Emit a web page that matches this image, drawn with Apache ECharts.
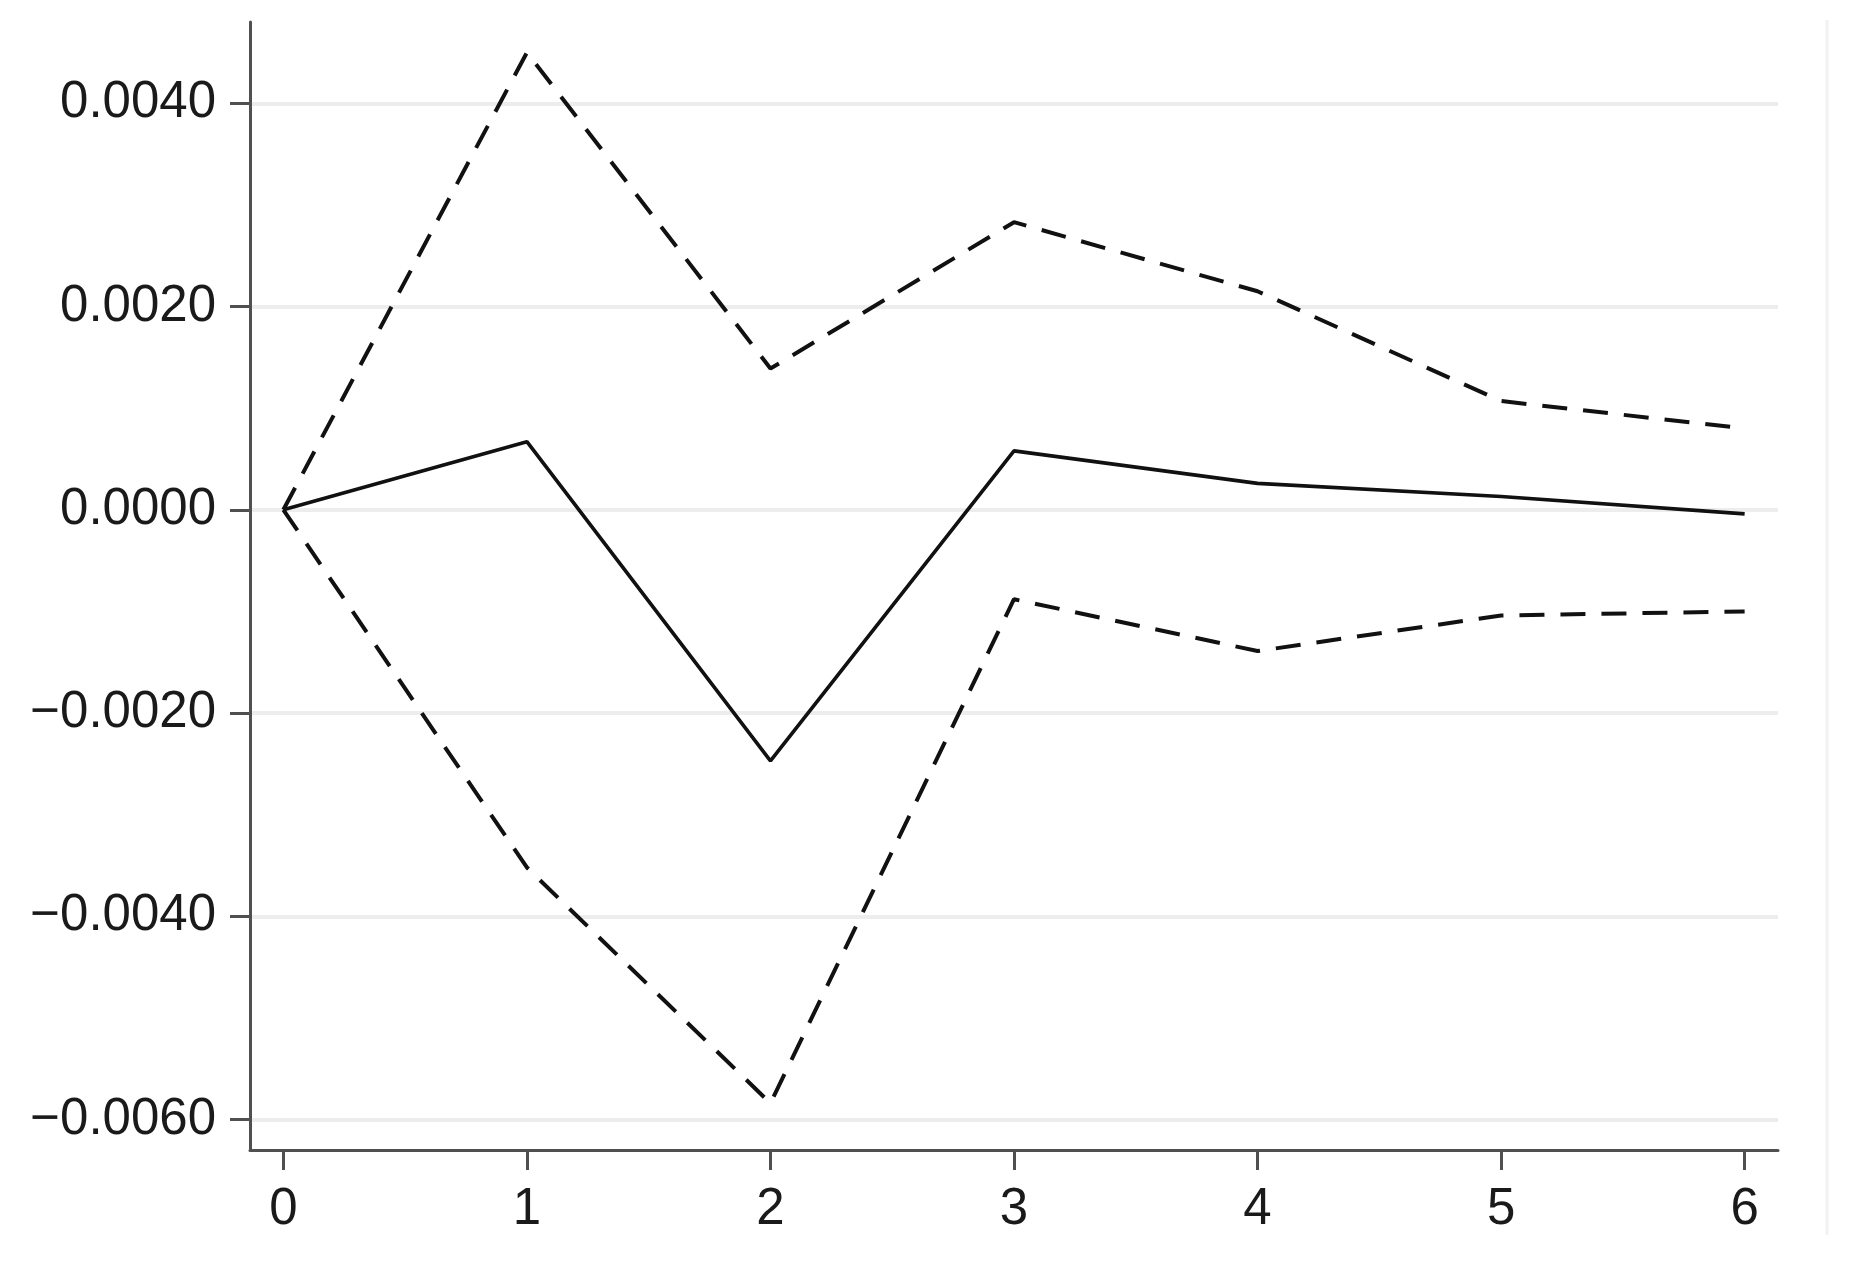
<!DOCTYPE html>
<html>
<head>
<meta charset="utf-8">
<script src="https://cdn.jsdelivr.net/npm/echarts@6/dist/echarts.min.js"></script>
<style>
  html, body { margin: 0; padding: 0; background: #ffffff; }
  #chart { width: 1849px; height: 1273px; }
</style>
</head>
<body>
<div id="chart"></div>
<script>
// Periods after the shock
var periods = [0, 1, 2, 3, 4, 5, 6];
// Impulse response (solid) and confidence bounds (dashed)
var response = [0, 0.00067, -0.00247, 0.00058, 0.00026, 0.00013, -0.00004];
var upperBound = [0, 0.00450, 0.00139, 0.00283, 0.00215, 0.00107, 0.00080];
var lowerBound = [0, -0.00352, -0.00584, -0.00088, -0.00139, -0.00104, -0.00100];
// Tick values
var xTicks = [0, 1, 2, 3, 4, 5, 6];
var yTicks = [-0.006, -0.004, -0.002, 0, 0.002, 0.004];

function pairs(vals) {
  return periods.map(function (p, i) { return [p, vals[i]]; });
}

var chart = echarts.init(document.getElementById('chart'), null, { renderer: 'canvas' });
var labelFont = '"Liberation Sans", Arial, Helvetica, sans-serif';

chart.setOption({
  backgroundColor: '#ffffff',
  animation: false,
  grid: { left: 250, right: 71, top: 22, bottom: 123 },
  xAxis: {
    type: 'value',
    min: -0.137,
    max: 6.137,
    axisLine: { show: true, onZero: false, lineStyle: { color: '#505050', width: 3 } },
    axisTick: { show: true, length: 20, customValues: xTicks, lineStyle: { color: '#505050', width: 3 } },
    axisLabel: {
      customValues: xTicks,
      margin: 34,
      fontSize: 51,
      fontFamily: labelFont,
      color: '#1a1a1a',
      formatter: function (v) { return String(Math.round(v)); }
    },
    splitLine: { show: false }
  },
  yAxis: {
    type: 'value',
    min: -0.0063,
    max: 0.0048,
    splitNumber: 5,
    axisLine: { show: true, onZero: false, lineStyle: { color: '#505050', width: 3 } },
    axisTick: { show: true, length: 20, customValues: yTicks, lineStyle: { color: '#505050', width: 3 } },
    axisLabel: {
      customValues: yTicks,
      margin: 34,
      fontSize: 51,
      fontFamily: labelFont,
      color: '#1a1a1a',
      formatter: function (v) {
        var a = Math.abs(v).toFixed(4);
        if (Math.abs(v) < 1e-12) return '0.0000';
        return v < 0 ? '\u2212' + a : a;
      }
    },
    splitLine: {
      show: true,
      lineStyle: { color: '#ededed', width: 4 }
    }
  },
  graphic: [{
    type: 'line',
    shape: { x1: 1827, y1: 20, x2: 1827, y2: 1235 },
    style: { stroke: '#f2f2f2', lineWidth: 3 },
    silent: true
  }],
  series: [
    {
      name: 'upper',
      type: 'line',
      data: pairs(upperBound),
      symbol: 'none',
      lineStyle: { color: '#111111', width: 4, type: [25, 16] },
      z: 3
    },
    {
      name: 'response',
      type: 'line',
      data: pairs(response),
      symbol: 'none',
      lineStyle: { color: '#111111', width: 3.6, type: 'solid' },
      z: 4
    },
    {
      name: 'lower',
      type: 'line',
      data: pairs(lowerBound),
      symbol: 'none',
      lineStyle: { color: '#111111', width: 4, type: [25, 16] },
      z: 3
    }
  ]
});
</script>
</body>
</html>
